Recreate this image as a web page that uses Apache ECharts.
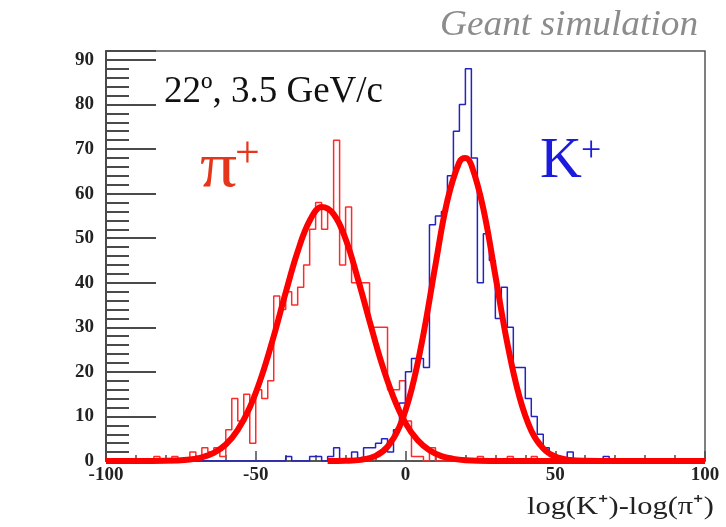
<!DOCTYPE html>
<html>
<head>
<meta charset="utf-8">
<script src="https://cdn.jsdelivr.net/npm/echarts@6/dist/echarts.min.js"></script>
<style>
  html, body { margin: 0; padding: 0; background: #fff; }
  #chart { width: 726px; height: 527px; }
</style>
</head>
<body>
<div id="chart"></div>
<script>
// histogram binning (bin edges)
const binStart = -100;
const binWidth = 2;

// pi+ histogram counts, one per 2-unit bin from -100 to 100
const pionCounts = [
  0, 0, 0, 0, 0, 0, 0, 0, 1, 0,     // -100 .. -82
  0, 1, 0, 0, 2, 0, 3, 2, 3, 1,     // -80 .. -62
  7, 14, 9, 15, 4, 16, 14, 18, 37, 34,  // -60 .. -42
  38, 35, 39, 44, 52, 58, 52, 56, 72, 44, // -40 .. -22
  57, 40, 40, 40, 30, 30, 30, 16, 16, 18, // -20 .. -2
  9, 1, 1, 0, 3, 0, 0, 0, 0, 0,     // 0 .. 18
  0, 0, 1, 0, 0, 0, 0, 1, 0, 0,     // 20 .. 38
  0, 1, 0, 0, 0, 0, 0, 0, 0, 0,     // 40 .. 58
  0, 0, 0, 0, 0, 0, 0, 0, 0, 0,     // 60 .. 78
  0, 0, 0, 0, 0, 0, 0, 0, 0, 0      // 80 .. 98
];

// K+ histogram counts
const kaonCounts = [
  0, 0, 0, 0, 0, 0, 0, 0, 0, 0,     // -100 .. -82
  0, 0, 0, 0, 0, 0, 0, 0, 0, 0,     // -80 .. -62
  0, 0, 0, 0, 0, 0, 0, 0, 0, 0,     // -60 .. -42
  1, 0, 0, 0, 1, 1, 0, 1, 3, 0,     // -40 .. -22
  0, 2, 0, 3, 3, 4, 5, 2, 7, 13,    // -20 .. -2
  20, 23, 23, 21, 53, 55, 56, 64, 74, 80, // 0 .. 18
  88, 68, 40, 51, 45, 32, 39, 30, 21, 21, // 20 .. 38
  14, 10, 6, 3, 1, 1, 0, 2, 0, 0,   // 40 .. 58
  0, 0, 0, 1, 0, 0, 0, 0, 0, 0,     // 60 .. 78
  0, 0, 0, 0, 0, 0, 0, 0, 0, 0      // 80 .. 98
];

// gaussian fit curves
const pionFitX = [-100, -90, -80, -72, -68, -64, -60, -56, -52, -48, -44, -40, -36, -32, -28, -24, -20, -16, -12, -8, -4, 0, 4, 8, 12, 16, 20, 28, 40, 60, 80, 100];
const pionFitY = [0, 0, 0.05, 0.35, 0.83, 1.84, 3.7, 7.0, 12.0, 19.1, 28.0, 37.8, 47.0, 53.9, 57.0, 55.4, 49.8, 41.1, 31.4, 22.0, 14.3, 8.5, 4.7, 2.4, 1.1, 0.48, 0.19, 0.02, 0, 0, 0, 0];
const kaonFitX = [-26, -20, -15, -10, -6, -2, 2, 6, 10, 14, 18, 20, 22, 26, 30, 34, 38, 42, 46, 50, 55, 60, 70, 85, 100];
const kaonFitY = [0, 0.05, 0.26, 1.15, 3.2, 7.7, 16.0, 28.5, 44.0, 58.5, 67.1, 68.0, 66.4, 56.6, 41.6, 26.4, 14.5, 6.8, 2.8, 0.98, 0.21, 0.04, 0, 0, 0];

const xTicks = [-100, -50, 0, 50, 100];
const yMax = 92;

function toSteps(counts) {
  const pts = counts.map((v, i) => [binStart + i * binWidth, v]);
  pts.push([binStart + counts.length * binWidth, counts[counts.length - 1]]);
  return pts;
}
function zip(xs, ys) {
  return xs.map((x, i) => [x, ys[i]]);
}

const serif = "'Liberation Serif', 'Times New Roman', serif";
const axisColor = '#4a4a4a';

const option = {
  animation: false,
  backgroundColor: '#fff',
  grid: {
    left: 106,
    right: 21,
    top: 51,
    bottom: 66,
    show: true,
    borderColor: '#555',
    borderWidth: 1.5,
  },
  xAxis: {
    type: 'value',
    min: xTicks[0],
    max: xTicks[xTicks.length - 1],
    interval: 50,
    axisLine: { onZero: false, lineStyle: { color: axisColor, width: 1.5 } },
    axisTick: { inside: true, length: 10, lineStyle: { color: axisColor, width: 1.5 } },
    minorTick: { show: true, splitNumber: 5, length: 6, lineStyle: { color: axisColor, width: 1.5 } },
    axisLabel: { color: '#222', fontFamily: serif, fontWeight: 'bold', fontSize: 19, margin: 5 },
    splitLine: { show: false },
  },
  yAxis: [
    {
      type: 'value',
      min: 0,
      max: yMax,
      interval: 10,
      axisLine: { onZero: false, lineStyle: { color: axisColor, width: 2 } },
      axisTick: { inside: true, length: 50, lineStyle: { color: axisColor, width: 2 } },
      axisLabel: {
        color: '#222', fontFamily: serif, fontWeight: 'bold', fontSize: 19, margin: 12,
        formatter: (v) => (v % 10 === 0 ? v : ''),
      },
      splitLine: { show: false },
    },
    {
      // minor ticks every 2
      type: 'value',
      position: 'left',
      min: 0,
      max: yMax,
      interval: 2,
      axisLine: { show: false, onZero: false },
      axisTick: { inside: true, length: 23, lineStyle: { color: axisColor, width: 2 } },
      axisLabel: { show: false },
      splitLine: { show: false },
    },
  ],
  series: [
    {
      name: 'pi',
      type: 'line',
      step: 'end',
      showSymbol: false,
      data: toSteps(pionCounts),
      lineStyle: { color: '#ff2a2a', width: 1.5 },
    },
    {
      name: 'K',
      type: 'line',
      step: 'end',
      showSymbol: false,
      data: toSteps(kaonCounts),
      lineStyle: { color: '#2323c0', width: 1.5 },
    },
    {
      name: 'piFit',
      type: 'line',
      smooth: 0.4,
      showSymbol: false,
      data: zip(pionFitX, pionFitY),
      lineStyle: { color: '#ff0000', width: 6 },
    },
    {
      name: 'KFit',
      type: 'line',
      smooth: 0.4,
      showSymbol: false,
      data: zip(kaonFitX, kaonFitY),
      lineStyle: { color: '#ff0000', width: 6 },
    },
  ],
  graphic: [
    {
      type: 'text', x: 440, y: 8, scaleX: 1.066,
      style: { text: 'Geant simulation', font: 'italic 35px ' + serif, fill: '#8c8c8c' },
    },
    {
      type: 'text', left: 164, top: 74,
      style: { text: '22º, 3.5 GeV/c', font: '37px ' + serif, fill: '#111' },
    },
    {
      type: 'text', x: 200, y: 137, scaleX: 1.15,
      style: { text: 'π', font: '64px ' + serif, fill: '#e5361c' },
    },
    {
      type: 'text', left: 235, top: 133,
      style: { text: '+', font: '44px ' + serif, fill: '#e5361c' },
    },
    {
      type: 'text', left: 540, top: 133,
      style: { text: 'K', font: '58px ' + serif, fill: '#1b1be0' },
    },
    {
      type: 'text', left: 581, top: 134,
      style: { text: '+', font: '36px ' + serif, fill: '#1b1be0' },
    },
    {
      type: 'text', x: 527, y: 494, scaleX: 1.17,
      style: { text: 'log(K⁺)-log(π⁺)', font: '26px ' + serif, fill: '#222' },
    },
  ],
};

const myChart = echarts.init(document.getElementById('chart'));
myChart.setOption(option);
</script>
</body>
</html>
